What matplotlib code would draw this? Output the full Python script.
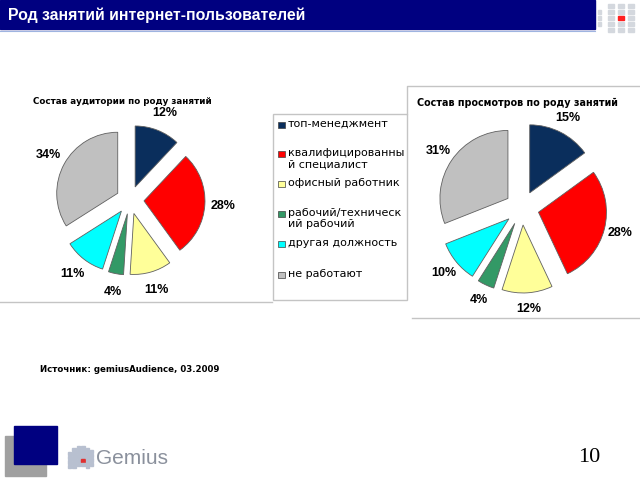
import matplotlib
matplotlib.use("Agg")
import matplotlib.pyplot as plt
from matplotlib.patches import Rectangle

# data
categories = ["топ-менеджмент", "квалифицированный специалист", "офисный работник",
              "рабочий/технический рабочий", "другая должность", "не работают"]
legend_labels = ["топ-менеджмент", "квалифицированны\nй специалист", "офисный работник",
                 "рабочий/техническ\nий рабочий", "другая должность", "не работают"]
audience = [12, 28, 11, 4, 11, 34]
views = [15, 28, 12, 4, 10, 31]
colors = ["#0a2e5c", "#ff0000", "#ffff99", "#339966", "#00ffff", "#c0c0c0"]

title = "Род занятий интернет-пользователей"
title_left = "Состав аудитории по роду занятий"
title_right = "Состав просмотров по роду занятий"
source = "Источник: gemiusAudience, 03.2009"

W, H = 640, 480
fig = plt.figure(figsize=(6.4, 4.8), dpi=100)

# background axes in pixel coords for slide decoration
bg = fig.add_axes([0, 0, 1, 1])
bg.set_xlim(0, W)
bg.set_ylim(H, 0)
bg.axis("off")

navy = "#000080"
bg.add_patch(Rectangle((0, 0), 595, 29, color=navy))
bg.plot([0, 595], [31, 31], color="#9fb4e0", lw=0.8)
bg.text(8, 15, title, color="white", fontsize=11.4, fontweight="bold",
        family="Liberation Sans", va="center", ha="left")

# small logo top right
for i, cx in enumerate([598, 608, 618, 628]):
    for j, cy in enumerate([4, 10, 16, 22, 28]):
        if i == 0 and j in (0, 4):
            continue
        c = "#ff2020" if (i == 2 and j == 2) else "#d4d8de"
        bg.add_patch(Rectangle((cx, cy), 6 if i else 3, 4, color=c))

# frames
line_c = "#c4c4c4"
bg.plot([0, 272], [302, 302], color=line_c, lw=1)
bg.add_patch(Rectangle((273, 114), 134, 186, fill=False, ec=line_c, lw=1))
bg.plot([407, 407, 640], [114, 86, 86], color=line_c, lw=1)
bg.plot([412, 640], [318, 318], color=line_c, lw=1)

# chart titles
bg.text(33, 102, title_left, fontsize=6.3, fontweight="bold", family="DejaVu Sans",
        va="center", ha="left")
bg.text(417, 103, title_right, fontsize=6.9, fontweight="bold", family="DejaVu Sans",
        va="center", ha="left")

# legend
leg_y = [125, 154, 184, 214, 244, 275]
for lab, col, y in zip(legend_labels, colors, leg_y):
    bg.add_patch(Rectangle((278, y - 3.5), 6.5, 6.5, fc=col, ec="#404040", lw=0.5))
    bg.text(288, y - 6, lab, fontsize=8, family="DejaVu Sans", va="top", ha="left",
            linespacing=1.15)

# source
bg.text(40, 370, source, fontsize=6.2, fontweight="bold", family="DejaVu Sans",
        va="center", ha="left")

# bottom decoration
bg.add_patch(Rectangle((5, 436), 41, 40, color="#a0a0a0"))
bg.add_patch(Rectangle((14, 426), 43, 38, color=navy))
col_tops = [452, 448, 446, 446, 448, 450]
for i, top in enumerate(col_tops):
    x0 = 68 + i * 4.4
    y0 = top
    while y0 < 465:
        c = "#e03030" if (i == 3 and 455 <= y0 < 459) else "#b8c0d0"
        bg.add_patch(Rectangle((x0, y0), 3.3, 3.2, color=c))
        y0 += 4.2
bg.text(96, 458, "Gemius", fontsize=15, color="#8a909c", family="Liberation Sans",
        va="center", ha="left")
bg.text(589, 458, "10", fontsize=16, family="Liberation Serif", va="center", ha="center")


def pie_axes(cx, cy, half):
    return fig.add_axes([(cx - half) / W, 1 - (cy + half) / H, 2 * half / W, 2 * half / H])


def draw_pie(ax, vals, r, e, pd):
    ax.pie(vals, colors=colors, startangle=90, counterclock=False, radius=r,
           explode=[e] * len(vals), pctdistance=pd,
           autopct=lambda p: "%d%%" % round(p),
           wedgeprops=dict(edgecolor="#606060", linewidth=0.6),
           textprops=dict(fontsize=9, fontweight="bold", family="Liberation Sans"))
    ax.set_xlim(-110, 110)
    ax.set_ylim(-110, 110)
    ax.set_aspect("equal")
    ax.axis("off")


ax1 = pie_axes(130, 200, 110)
draw_pie(ax1, audience, 61, 14, 1.3)

ax2 = pie_axes(522, 208, 110)
draw_pie(ax2, views, 68, 17, 1.24)

fig.savefig("out.png", dpi=100)
